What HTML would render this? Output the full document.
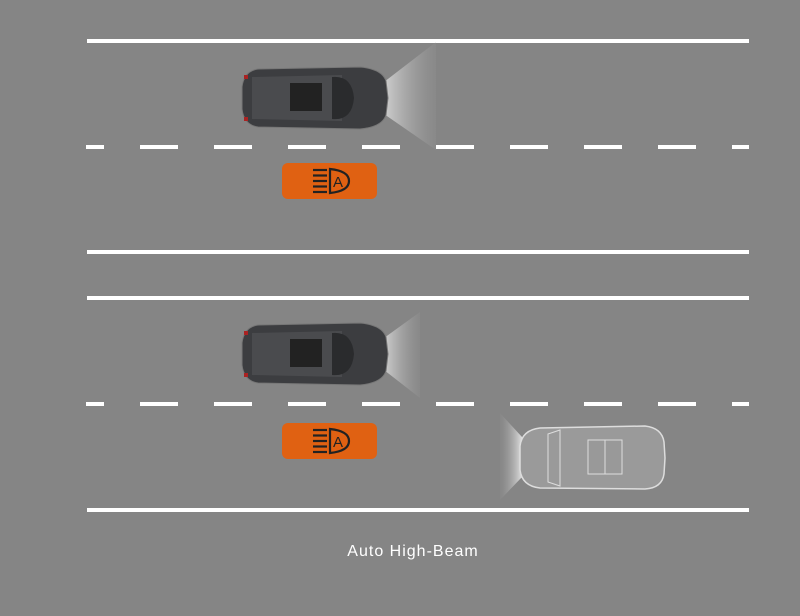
<!DOCTYPE html>
<html><head><style>
html,body{margin:0;padding:0;}
body{width:800px;height:611px;background:#858585;overflow:hidden;font-family:"Liberation Sans",sans-serif;}
</style></head><body>
<svg width="800" height="611" viewBox="0 0 800 611" xmlns="http://www.w3.org/2000/svg">
<defs>
<linearGradient id="b1" x1="0" x2="1" y1="0" y2="0"><stop offset="0" stop-color="#d8d8d8" stop-opacity=".9"/><stop offset="1" stop-color="#999" stop-opacity=".2"/></linearGradient>
<linearGradient id="b2" x1="1" x2="0" y1="0" y2="0"><stop offset="0" stop-color="#e8e8e8" stop-opacity=".9"/><stop offset="1" stop-color="#999" stop-opacity=".1"/></linearGradient>
<g id="dash"><rect x="86" y="0" width="18" height="4" fill="#fff"/>
<rect x="140" width="38" height="4" fill="#fff"/><rect x="214" width="38" height="4" fill="#fff"/><rect x="288" width="38" height="4" fill="#fff"/><rect x="362" width="38" height="4" fill="#fff"/><rect x="436" width="38" height="4" fill="#fff"/><rect x="510" width="38" height="4" fill="#fff"/><rect x="584" width="38" height="4" fill="#fff"/><rect x="658" width="38" height="4" fill="#fff"/><rect x="732" width="17" height="4" fill="#fff"/></g>
<g id="darkcar">
<path d="M0 20 Q2 4 16 2 L118 0 Q140 2 144 14 L146 31 L144 48 Q140 60 118 62 L16 60 Q2 58 0 42 Z" fill="#3c3d40" stroke="#777" stroke-width="1"/>
<path d="M10 10 L100 8 L100 54 L10 52 Z" fill="#4a4b4e"/>
<rect x="48" y="16" width="32" height="28" fill="#222"/>
<path d="M90 10 Q110 8 112 31 Q110 54 90 52 Z" fill="#2a2b2d"/>
<rect x="2" y="8" width="4" height="4" fill="#a22"/><rect x="2" y="50" width="4" height="4" fill="#a22"/>
</g>
<g id="icon" fill="none" stroke="#222" stroke-width="2.2">
<line x1="0" y1="1" x2="14" y2="1"/><line x1="0" y1="6.5" x2="14" y2="6.5"/><line x1="0" y1="12" x2="14" y2="12"/><line x1="0" y1="17.5" x2="14" y2="17.5"/><line x1="0" y1="23" x2="14" y2="23"/>
<path d="M17 0 Q36 2 36 12 Q36 22 17 24 Z"/>
<text x="20" y="18" font-size="15" fill="#222" stroke="none" font-family="Liberation Sans">A</text>
</g>
</defs>
<rect x="87" y="39" width="662" height="4" fill="#fff"/>
<rect x="87" y="250" width="662" height="4" fill="#fff"/>
<rect x="87" y="296" width="662" height="4" fill="#fff"/>
<rect x="87" y="508" width="662" height="4" fill="#fff"/>
<use href="#dash" y="145"/>
<use href="#dash" y="402"/>
<polygon points="384,82 436,42 436,150 384,114" fill="url(#b1)"/>
<polygon points="384,338 420,312 420,398 384,370" fill="url(#b1)"/>
<polygon points="522,437 500,413 500,500 522,477" fill="url(#b2)"/>
<use href="#darkcar" x="242" y="67"/>
<use href="#darkcar" x="242" y="323"/>
<g transform="translate(520,426)">
<path d="M0 20 Q2 4 20 2 L125 0 Q142 2 144 16 L145 32 L144 48 Q142 62 125 63 L20 62 Q2 60 0 44 Z" fill="#9a9a9a" stroke="#ddd" stroke-width="1.5"/>
<path d="M28 8 L40 4 L40 60 L28 56 Z" fill="none" stroke="#ddd"/>
<rect x="68" y="14" width="34" height="34" fill="#999" stroke="#ddd"/>
<line x1="85" y1="14" x2="85" y2="48" stroke="#ddd"/>
</g>
<rect x="282" y="163" width="95" height="36" rx="6" fill="#e06112"/>
<rect x="282" y="423" width="95" height="36" rx="6" fill="#e06112"/>
<use href="#icon" x="313" y="169"/>
<use href="#icon" x="313" y="429"/>
<text x="413" y="556" text-anchor="middle" font-size="16" letter-spacing="1" fill="#fff">Auto High-Beam</text>
</svg>
</body></html>
